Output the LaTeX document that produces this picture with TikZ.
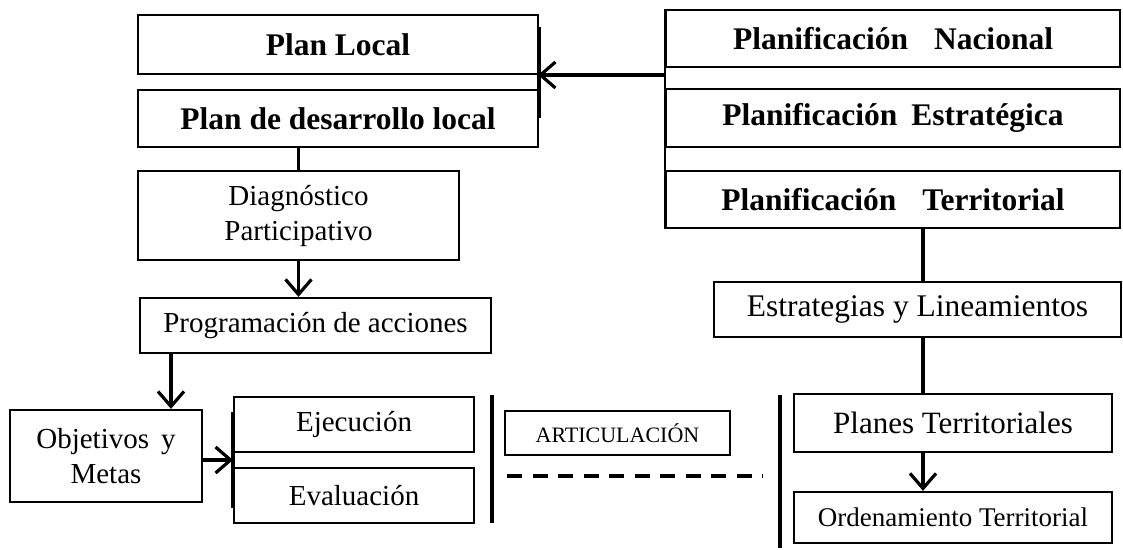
\documentclass[tikz,border=0pt]{standalone}
\usepackage{fontspec}
\setmainfont{Liberation Serif}
\usetikzlibrary{arrows.meta}
\begin{document}
\begin{tikzpicture}[x=1pt,y=-1pt,
  box/.style={draw, line width=2.3pt, inner sep=0pt, align=center},
  bftext/.style={font=\fontsize{31.5}{36}\selectfont\bfseries},
  rgtext/.style={font=\fontsize{29}{35}\selectfont},
  conn/.style={line width=3.2pt},
  arr/.style={line width=3.2pt, -{Straight Barb[length=15pt,width=26pt,line width=3.2pt]}},
  bar/.style={line width=3.6pt}
]
\useasboundingbox (0,0) rectangle (1123,549);

% left column
\node[box,bftext,minimum width=400pt,minimum height=59pt] (planlocal) at (338,44.5) {Plan Local};
\node[box,bftext,minimum width=400pt,minimum height=57pt] (plandes) at (338,118.5) {Plan de desarrollo local};
\node[box,rgtext,minimum width=321pt,minimum height=89pt] (diag) at (298.5,215.5) {Diagnóstico\\Participativo};
\node[box,rgtext,minimum width=351pt,minimum height=55pt] (prog) at (315.5,325.5) {Programación de acciones};
\node[box,rgtext,minimum width=192pt,minimum height=92pt] (obj) at (106,456) {Objetivos\hspace{12pt}y\\Metas};
\node[box,rgtext,minimum width=240pt,minimum height=55pt] (ejec) at (354,424.5) {Ejecución};
\node[box,rgtext,minimum width=240pt,minimum height=55pt] (eval) at (354,495.5) {Evaluación};
\node[box,font=\fontsize{22}{26}\selectfont,minimum width=225pt,minimum height=44pt] (artic) at (617.5,433) {ARTICULACIÓN};

% right column
\node[box,bftext,minimum width=454pt,minimum height=57pt] (nac) at (893,38.5) {Planificación\hspace{26pt}Nacional};
\node[box,bftext,minimum width=454pt,minimum height=58pt] (estr) at (893,118) {Planificación\hspace{14pt}Estratégica};
\node[box,bftext,minimum width=454pt,minimum height=57pt] (terr) at (893,199.5) {Planificación\hspace{26pt}Territorial};
\node[box,font=\fontsize{31.5}{36}\selectfont,minimum width=407pt,minimum height=55pt] (estrat) at (917.5,309.5) {Estrategias y Lineamientos};
\node[box,font=\fontsize{31}{36}\selectfont,minimum width=318pt,minimum height=58pt] (planes) at (953,423) {Planes Territoriales};
\node[box,font=\fontsize{27}{32}\selectfont,minimum width=318pt,minimum height=51pt] (orden) at (953,517.5) {Ordenamiento Territorial};

% connectors left
\coordinate (ah) at (538,75);
\draw[line width=2.3pt] (nac.north west) -- (terr.south west);
\draw[arr] (ah -| nac.west) -- (ah);
\draw[bar] (planlocal.east |- 0,27) -- (planlocal.east |- 0,118);
\draw[conn] (diag.north |- plandes.south) -- (diag.north);
\draw[arr] (diag.south) -- (diag.south |- prog.north);
\coordinate (po) at (171,353);
\draw[arr] (po) -- (po |- obj.north);
\coordinate (jn) at (233,460);
\draw[arr] (jn -| obj.east) -- (jn);
\draw[bar] (ejec.west |- 0,412) -- (ejec.west |- 0,508);

% separators
\draw[bar] (492,395) -- (492,523);
\coordinate (dl) at (507,476);
\coordinate (dr) at (763,476);
\draw[bar, dash pattern=on 15pt off 10.5pt] (dl) -- (dr);
\draw[bar] (780,395) -- (780,548);

% connectors right
\coordinate (cx) at (923,0);
\draw[conn] (terr.south -| cx) -- (estrat.north -| cx);
\draw[conn] (estrat.south -| cx) -- (planes.north -| cx);
\draw[arr] (planes.south -| cx) -- (orden.north -| cx);
\end{tikzpicture}
\end{document}
